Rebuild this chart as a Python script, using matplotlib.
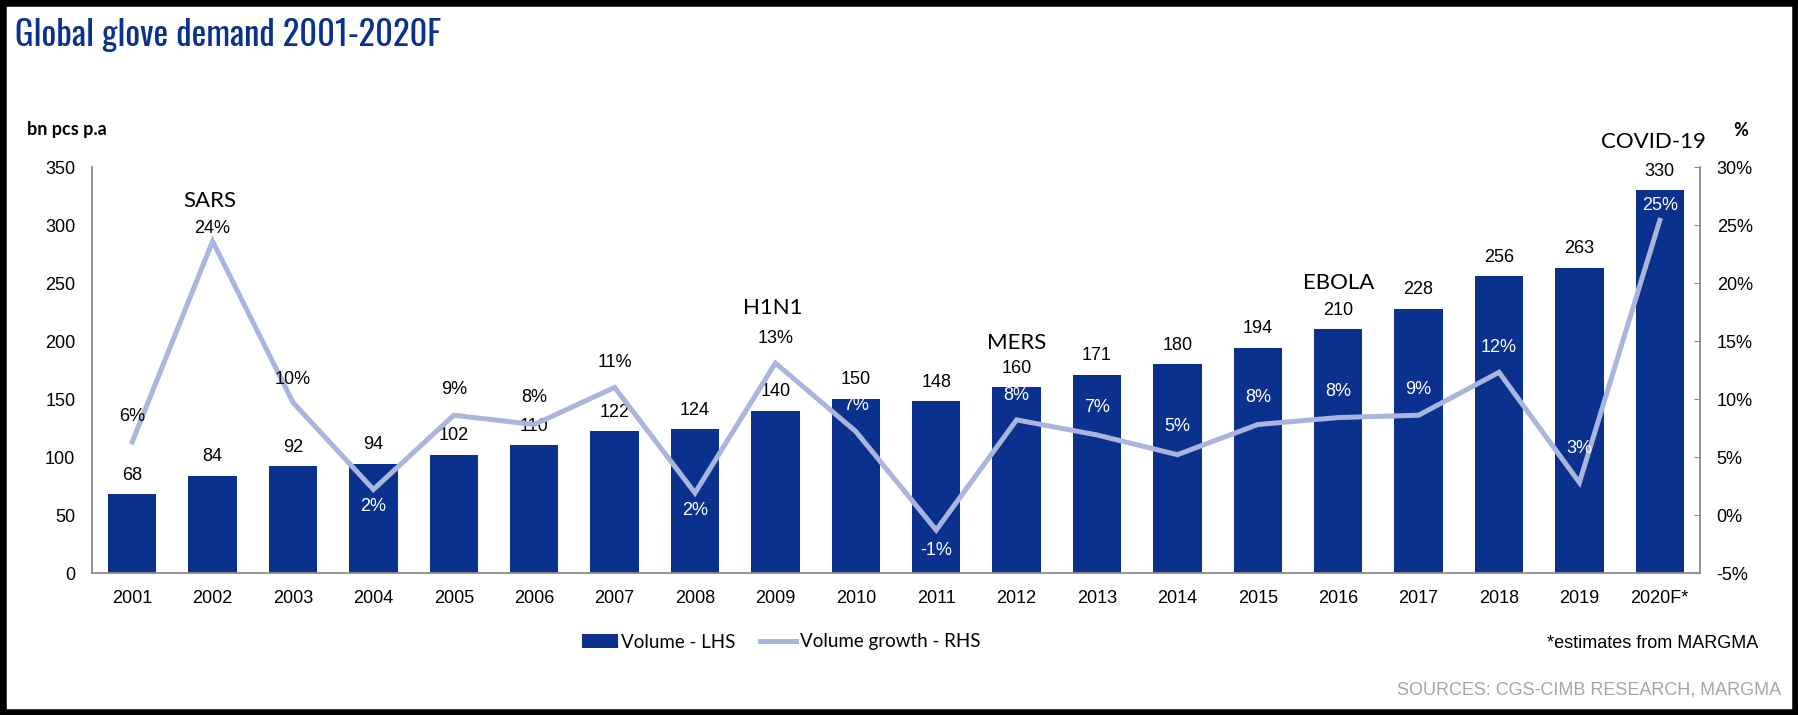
import numpy as np
import matplotlib
matplotlib.use('Agg')
import matplotlib.pyplot as plt
from matplotlib.patches import Rectangle
from matplotlib import font_manager

plt.rcParams['font.family'] = ['Liberation Sans', 'DejaVu Sans']

years = ['2001', '2002', '2003', '2004', '2005', '2006', '2007', '2008', '2009', '2010',
         '2011', '2012', '2013', '2014', '2015', '2016', '2017', '2018', '2019', '2020F*']
volume = [68, 84, 92, 94, 102, 110, 122, 124, 140, 150,
          148, 160, 171, 180, 194, 210, 228, 256, 263, 330]
growth = [6.3, 23.6, 9.7, 2.2, 8.6, 7.8, 11.0, 1.9, 13.1, 7.2,
          -1.3, 8.2, 6.9, 5.2, 7.8, 8.4, 8.6, 12.3, 2.8, 25.4]
events = {'2002': 'SARS', '2009': 'H1N1', '2012': 'MERS', '2016': 'EBOLA', '2020F*': 'COVID-19'}

bar_col = '#0B318F'
line_col = '#A9B5DC'
axis_col = '#8C8C8C'
calibri = ['Lato', 'DejaVu Sans']

# pick the narrowest bold face that is actually installed for the title
installed = {f.name for f in font_manager.fontManager.ttflist}
title_font = 'Liberation Sans'
for cand in ['Oswald', 'Roboto Condensed', 'Liberation Sans Narrow', 'DejaVu Sans Condensed']:
    if cand in installed:
        title_font = cand
        break
title_size = 25 if title_font != 'Liberation Sans' else 20

# label offsets (pixels) for the growth labels
g_off = [25, 13, 23, -17, 26, 27, 25, -18, 25, 26, -20, 24, 27, 28, 27, 26, 26, 25, 34, 15]
# event label offsets (pixels): anchored on line point or bar top
ev_off = {'2002': ('line', 40), '2009': ('line', 55), '2012': ('bar', 44),
          '2016': ('bar', 46), '2020F*': ('bar', 48)}

W, H = 1798, 715
fig = plt.figure(figsize=(W / 100, H / 100), dpi=100)
ax1 = fig.add_axes([92 / W, 1 - 573 / H, (1700 - 92) / W, (573 - 167) / H])
ax2 = ax1.twinx()

x = np.arange(len(years))
bars = ax1.bar(x, volume, width=0.6, color=bar_col, zorder=2, label='Volume - LHS')
line, = ax2.plot(x, growth, color=line_col, lw=3.6, solid_joinstyle='miter',
                 label='Volume growth - RHS', zorder=3)

ax1.set_xlim(-0.5, len(years) - 0.5)
ax1.set_ylim(0, 350)
ax2.set_ylim(-5, 30)
ax1.set_yticks(range(0, 351, 50))
ax2.set_yticks(range(-5, 31, 5))
ax2.set_yticklabels([f'{t}%' for t in range(-5, 31, 5)])
ax1.set_xticks(x)
ax1.set_xticklabels(years)

for s in ['top', 'right']:
    ax1.spines[s].set_visible(False)
for s in ['top', 'left', 'bottom']:
    ax2.spines[s].set_visible(False)
for sp in [ax1.spines['left'], ax1.spines['bottom'], ax2.spines['right']]:
    sp.set_color(axis_col)
    sp.set_linewidth(1.3)
ax1.tick_params(axis='y', length=0, pad=12, labelsize=13)
ax1.tick_params(axis='x', length=0, pad=12, labelsize=13)
ax2.tick_params(axis='y', direction='in', length=4, color=axis_col, pad=12, labelsize=13)

# volume labels
for i, v in enumerate(volume):
    ax1.annotate(str(v), (i, v), xytext=(0, 19), textcoords='offset pixels',
                 ha='center', va='center', fontsize=13, color='black', zorder=2)

# growth labels, white when sitting on a bar
for i, g in enumerate(growth):
    y_lab = ax2.transData.transform((i, g))[1] + g_off[i]
    y_bar = ax1.transData.transform((i, volume[i]))[1]
    col = 'white' if y_lab < y_bar - 6 else 'black'
    ax2.annotate(f'{g:.0f}%', (i, g), xytext=(0, g_off[i]), textcoords='offset pixels',
                 ha='center', va='center', fontsize=13, color=col, zorder=4)

# event names
for yr, name in events.items():
    i = years.index(yr)
    anchor, off = ev_off[yr]
    if anchor == 'line':
        ax2.annotate(name, (i, growth[i]), xytext=(-3, off), textcoords='offset pixels',
                     ha='center', va='center', fontsize=16, family=calibri,
                     annotation_clip=False, zorder=5)
    else:
        ax1.annotate(name, (i, volume[i]), xytext=(-6 if yr == '2020F*' else 0, off),
                     textcoords='offset pixels', ha='center', va='center', fontsize=16,
                     family=calibri, annotation_clip=False)

fig.text(15 / W, 1 - 46 / H, 'Global glove demand 2001-2020F', fontsize=title_size,
         fontweight='heavy', color=bar_col, ha='left', va='baseline',
         family=[title_font, 'DejaVu Sans'])
fig.text(27 / W, 1 - 130 / H, 'bn pcs p.a', fontsize=13, fontweight='bold',
         family=calibri, ha='left', va='center')
fig.text(1741 / W, 1 - 130 / H, '%', fontsize=13, fontweight='bold',
         family=calibri, ha='center', va='center')
fig.text(1758 / W, 1 - 643 / H, '*estimates from MARGMA', fontsize=13,
         ha='right', va='center')
fig.text(1781 / W, 1 - 690 / H, 'SOURCES: CGS-CIMB RESEARCH, MARGMA', fontsize=13,
         color='#A6A6A6', ha='right', va='center')

fig.legend([bars, line], ['Volume - LHS', 'Volume growth - RHS'], loc='center',
           bbox_to_anchor=(781 / W, 1 - 642 / H), ncol=2, frameon=False,
           prop={'family': calibri, 'size': 13.5}, handlelength=1.9,
           handleheight=0.8, handletextpad=0.2, columnspacing=1.3)

fig.patches.append(Rectangle((0, 0), 1, 1, transform=fig.transFigure, fill=False,
                             edgecolor='black', linewidth=9, clip_on=False))

fig.savefig('out.png', dpi=100)
